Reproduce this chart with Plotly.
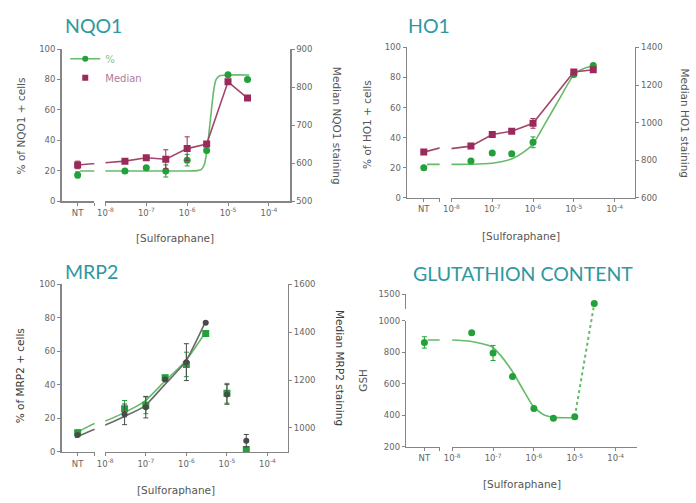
import plotly.graph_objects as go

W, H = 696, 503

# ---------------- data ----------------
CONC7 = [3e-8, 1e-7, 3e-7, 1e-6, 3e-6, 1e-5, 3e-5]
CONC6 = [3e-8, 1e-7, 3e-7, 1e-6, 1e-5, 3e-5]
NT_LOG = -8.68                      # where the untreated (NT) column sits on the log axis
X_TICKVALS = [1e-8, 1e-7, 1e-6, 1e-5, 1e-4]
X_TICKTEXT = ["10<sup>-8</sup>", "10<sup>-7</sup>", "10<sup>-6</sup>", "10<sup>-5</sup>", "10<sup>-4</sup>"]

# NQO1
nqo1_pct_nt, nqo1_pct_nt_err = 17.2, 2.0
nqo1_pct = [19.8, 21.9, 19.8, 26.9, 33.3, 83.2, 80.0]
nqo1_pct_err = [0.8, 0.8, 4.0, 3.8, 0.8, 0.8, 0.8]
nqo1_med_nt, nqo1_med_nt_err = 595, 10
nqo1_med = [605, 614, 610, 638, 650, 814, 771]
nqo1_med_err = [5, 4, 25, 31, 6, 4, 3]
nqo1_fit_log = [-8.62, -7.0, -6.0, -5.75, -5.65, -5.58, -5.51, -5.43, -5.35, -5.29, -5.2, -5.0, -4.48]
nqo1_fit_pct = [19.8, 19.8, 19.8, 20.0, 20.8, 24.0, 34.4, 53.8, 73.0, 80.0, 82.5, 83.0, 83.0]

# HO1
ho1_pct_nt, ho1_pct_nt_err = 20.0, 0.8
ho1_pct = [24.4, 29.8, 29.3, 36.9, 82.0, 88.0]
ho1_pct_err = [0.8, 0.8, 1.5, 3.6, 0.8, 0.8]
ho1_med_nt, ho1_med_nt_err = 843, 5
ho1_med = [875, 937, 954, 996, 1269, 1281]
ho1_med_err = [5, 6, 10, 26, 8, 8]
ho1_fit_log = [-8.6, -7.5, -7.0, -6.75, -6.5, -6.25, -6.0, -5.69, -5.37, -4.98, -4.72, -4.48]
ho1_fit_pct = [22.2, 22.3, 23.0, 24.2, 26.1, 30.0, 35.8, 50.0, 65.0, 82.5, 86.4, 88.0]

# MRP2
mrp2_pct_nt, mrp2_pct_nt_err = 11.5, 1.5
mrp2_pct = [25.8, 27.8, 44.3, 52.2, 70.7, 35.0, 1.4]
mrp2_pct_err = [4.9, 5.0, 1.5, 7.3, 1.0, 5.9, 0.8]
mrp2_med_nt, mrp2_med_nt_err = 971, 6
mrp2_med = [1057, 1087, 1203, 1275, 1440, 1140, 947]
mrp2_med_err = [43, 45, 6, 77, 4, 41, 26]
mrp2_fit_log = [-8.75, -8.26, -8.0, -7.57, -7.04, -6.54, -6.03, -5.54]
mrp2_fit_pct = [11.0, 17.0, 18.5, 23.0, 30.0, 42.0, 54.0, 71.0]
mrp2_fit_med = [960, 995, 1012, 1045, 1090, 1180, 1275, 1440]

# GSH
gsh_nt, gsh_nt_err = 863, 36
gsh = [925, 796, 647, 443, 381, 391, 1440]
gsh_err = [10, 48, 6, 6, 5, 6, 5]
gsh_fit_log = [-8.6, -8.24, -8.02, -7.52, -7.02, -6.8, -6.51, -6.23, -6.01, -5.75, -5.43, -4.99]
gsh_fit = [879, 879, 879, 869, 834, 776, 672, 547, 454, 402, 385, 385]

# ---------------- styling ----------------
GREEN = "#22a03a"
GREEN_LINE = "#66bb6a"
MAROON = "#9a2a5a"
MAROON_LINE = "#a3466f"
GRAY = "#4a4a4a"
GRAY_LINE = "#6a6a6a"
TEAL = "#2e98a0"
AXIS_COL = "#858585"
TICK_FONT = dict(family="DejaVu Sans", size=8.5, color="#666666")
TITLE_FONT = dict(family="DejaVu Sans", size=10.5, color="#555555")
TITLE_FONT_DARK = dict(family="DejaVu Sans", size=10.5, color="#3a3a3a")

# panel geometry in pixels
GEOM = {
    "nqo1": dict(left=54.3, brk=87.5, x8=98.7, dec=41.4, right=285.7, top=45.0, bot=200.0),
    "ho1": dict(left=404.3, brk=437.3, x8=449.3, dec=41.3, right=635.0, top=43.3, bot=196.7),
    "mrp2": dict(left=54.3, brk=87.8, x8=98.5, dec=41.1, right=283.3, top=285.0, bot=456.0),
    "gsh": dict(left=403.5, brk=437.3, x8=450.0, dec=41.4, right=637.0, top=322.3, bot=450.7,
                utop=295.0, ubot=310.0),
}


def fx(px):
    return px / W


def fy(py):
    return 1 - py / H


def logpos(g, px):
    return -8 + (px - g["x8"]) / g["dec"]


fig = go.Figure()
layout = {}

AX = dict(showline=True, linecolor=AXIS_COL, linewidth=1.5, ticks="outside", ticklen=3,
          tickcolor=AXIS_COL, tickwidth=1, tickfont=TICK_FONT, showgrid=False,
          zeroline=False, fixedrange=True)


def make_x(n, g, yname):
    nt = 10 ** NT_LOG
    layout["xaxis" + ("" if n == 1 else str(n))] = dict(
        AX, type="log", domain=[fx(g["left"]), fx(g["brk"])],
        range=[logpos(g, g["left"]), logpos(g, g["brk"])],
        tickmode="array", tickvals=[nt, 10 ** (logpos(g, g["brk"]) - 0.005)], ticktext=["NT", " "],
        anchor=yname)
    layout["xaxis" + str(n + 1)] = dict(
        AX, type="log", domain=[fx(g["x8"]), fx(g["right"])],
        range=[-8, logpos(g, g["right"])],
        tickmode="array", tickvals=X_TICKVALS, ticktext=X_TICKTEXT, anchor=yname)


def axname(prefix, n):
    return prefix + ("" if n == 1 else str(n))


def add_both(xn, yn, **kw):
    for xx in (axname("x", xn), axname("x", xn + 1)):
        fig.add_trace(go.Scatter(xaxis=xx, yaxis=yn, showlegend=False, hoverinfo="skip", **kw))


def eb(arr, col):
    return dict(type="data", array=arr, color=col, thickness=1, width=2.5)


def points(xn, yn, nt_val, nt_err, vals, errs, conc, col, symbol, size=7):
    xs = [10 ** NT_LOG] + list(conc)
    ys = [nt_val] + list(vals)
    es = [nt_err] + list(errs)
    add_both(xn, yn, x=xs, y=ys, mode="markers",
             marker=dict(color=col, symbol=symbol, size=size),
             error_y=eb(es, col))


# ---------- Panel 1: NQO1 ----------
g = GEOM["nqo1"]
make_x(1, g, "y")
layout["yaxis"] = dict(AX, domain=[fy(g["bot"]), fy(g["top"])], range=[0, 100],
                       tickvals=[0, 20, 40, 60, 80, 100], anchor="x")
layout["yaxis2"] = dict(AX, domain=[fy(g["bot"]), fy(g["top"])], range=[500, 900],
                        tickvals=[500, 600, 700, 800, 900], overlaying="y", side="right", anchor="x2")
add_both(1, "y", x=[10 ** v for v in nqo1_fit_log], y=nqo1_fit_pct, mode="lines",
         line=dict(color=GREEN_LINE, width=1.6, shape="spline", smoothing=0.5))
add_both(1, "y2", x=[10 ** NT_LOG] + CONC7, y=[nqo1_med_nt] + nqo1_med, mode="lines",
         line=dict(color=MAROON_LINE, width=1.6))
points(1, "y", nqo1_pct_nt, nqo1_pct_nt_err, nqo1_pct, nqo1_pct_err, CONC7, GREEN, "circle")
points(1, "y2", nqo1_med_nt, nqo1_med_nt_err, nqo1_med, nqo1_med_err, CONC7, MAROON, "square")

# legend entries
fig.add_trace(go.Scatter(x=[None], y=[None], xaxis="x2", yaxis="y", mode="lines+markers",
                         name='<span style="color:#86c28f">%</span>',
                         line=dict(color=GREEN_LINE, width=1.6),
                         marker=dict(color=GREEN, symbol="circle", size=6)))
fig.add_trace(go.Scatter(x=[None], y=[None], xaxis="x2", yaxis="y2", mode="markers",
                         name='<span style="color:#b07c96">Median</span>',
                         marker=dict(color=MAROON, symbol="square", size=6)))

# ---------- Panel 2: HO1 ----------
g = GEOM["ho1"]
make_x(3, g, "y3")
layout["yaxis3"] = dict(AX, domain=[fy(g["bot"]), fy(g["top"])], range=[0, 100],
                        tickvals=[0, 20, 40, 60, 80, 100], anchor="x3")
layout["yaxis4"] = dict(AX, domain=[fy(g["bot"]), fy(g["top"])], range=[600, 1400],
                        tickvals=[600, 800, 1000, 1200, 1400], overlaying="y3", side="right",
                        anchor="x4")
add_both(3, "y3", x=[10 ** v for v in ho1_fit_log], y=ho1_fit_pct, mode="lines",
         line=dict(color=GREEN_LINE, width=1.6, shape="spline", smoothing=0.6))
add_both(3, "y4", x=[10 ** NT_LOG] + CONC6, y=[ho1_med_nt] + ho1_med, mode="lines",
         line=dict(color=MAROON_LINE, width=1.6))
points(3, "y3", ho1_pct_nt, ho1_pct_nt_err, ho1_pct, ho1_pct_err, CONC6, GREEN, "circle")
points(3, "y4", ho1_med_nt, ho1_med_nt_err, ho1_med, ho1_med_err, CONC6, MAROON, "square")

# ---------- Panel 3: MRP2 ----------
g = GEOM["mrp2"]
make_x(5, g, "y5")
layout["yaxis5"] = dict(AX, domain=[fy(g["bot"]), fy(g["top"])], range=[0, 100],
                        tickvals=[0, 20, 40, 60, 80, 100], anchor="x5")
layout["yaxis6"] = dict(AX, domain=[fy(g["bot"]), fy(g["top"])], range=[900, 1600],
                        tickvals=[1000, 1200, 1400, 1600], overlaying="y5", side="right",
                        anchor="x6")
add_both(5, "y6", x=[10 ** v for v in mrp2_fit_log], y=mrp2_fit_med, mode="lines",
         line=dict(color=GRAY_LINE, width=1.6, shape="spline", smoothing=0.6))
add_both(5, "y5", x=[10 ** v for v in mrp2_fit_log], y=mrp2_fit_pct, mode="lines",
         line=dict(color=GREEN_LINE, width=1.6, shape="spline", smoothing=0.6))
points(5, "y6", mrp2_med_nt, mrp2_med_nt_err, mrp2_med, mrp2_med_err, CONC7, GRAY, "circle", 6)
points(5, "y5", mrp2_pct_nt, mrp2_pct_nt_err, mrp2_pct, mrp2_pct_err, CONC7, GREEN, "square", 7)

# ---------- Panel 4: GSH (broken y axis) ----------
g = GEOM["gsh"]
scale = (g["bot"] - g["top"]) / 800.0                 # px per GSH unit on the lower segment
c_top = 200 + (g["bot"] - g["utop"]) / scale          # hidden full-height axis top value
u_low = 1500 - (g["ubot"] - g["utop"]) / scale        # upper segment bottom value
offset = 1500 - c_top                                 # upper-segment value -> hidden-axis value
make_x(7, g, "y7")
layout["yaxis7"] = dict(AX, domain=[fy(g["bot"]), fy(g["top"])], range=[200, 1000],
                        tickvals=[200, 400, 600, 800, 1000], anchor="x7")
layout["yaxis8"] = dict(AX, domain=[fy(g["ubot"]), fy(g["utop"])], range=[u_low, 1500],
                        tickvals=[1500], anchor="x7")
layout["yaxis9"] = dict(visible=False, domain=[fy(g["bot"]), fy(g["utop"])], range=[200, c_top],
                        anchor="x7", fixedrange=True)
# dummy traces so that the visible axes get their subplots
for yy in ("y7", "y8"):
    for xx in ("x7", "x8"):
        fig.add_trace(go.Scatter(x=[None], y=[None], xaxis=xx, yaxis=yy, showlegend=False,
                                 hoverinfo="skip"))


def gsh_plot(v):
    return v - offset if v > 1000 else v


add_both(7, "y9", x=[10 ** v for v in gsh_fit_log], y=gsh_fit, mode="lines",
         line=dict(color=GREEN_LINE, width=1.6, shape="spline", smoothing=0.6))
add_both(7, "y9", x=CONC7[-2:], y=[gsh_plot(v) for v in gsh[-2:]], mode="lines",
         line=dict(color=GREEN_LINE, width=2, dash="dot"))
points(7, "y9", gsh_nt, gsh_nt_err, [gsh_plot(v) for v in gsh], gsh_err, CONC7, GREEN, "circle")

# ---------------- annotations ----------------
ann = []


def text(x, y, s, font, angle=0, xanchor="center"):
    ann.append(dict(x=fx(x), y=fy(y), xref="paper", yref="paper", text=s, showarrow=False,
                    font=font, textangle=angle, xanchor=xanchor, yanchor="middle"))


HEAD = dict(family="Lato", size=19.5, color=TEAL)
text(56, 21, "NQO1", HEAD, xanchor="left")
text(403, 21, "HO1", HEAD, xanchor="left")
text(56, 272, "MRP2", HEAD, xanchor="left")
text(408, 274, "GLUTATHION CONTENT", HEAD, xanchor="left")

text(13, 123, "% of NQO1 + cells", TITLE_FONT, -90)
text(334, 123, "Median NQO1 staining", TITLE_FONT, 90)
text(169, 238, "[Sulforaphane]", TITLE_FONT)

text(363, 122, "% of HO1 + cells", TITLE_FONT, -90)
text(686, 121, "Median HO1 staining", TITLE_FONT, 90)
text(520, 236, "[Sulforaphane]", TITLE_FONT)

text(13, 378, "% of MRP2 + cells", TITLE_FONT_DARK, -90)
text(337, 370, "Median MRP2 staining", TITLE_FONT_DARK, 90)
text(170, 495, "[Sulforaphane]", TITLE_FONT)

text(360, 383, "GSH", TITLE_FONT, -90)
text(521, 489, "[Sulforaphane]", TITLE_FONT)

layout.update(
    width=W, height=H, margin=dict(l=0, r=0, t=0, b=0, pad=0),
    paper_bgcolor="white", plot_bgcolor="white",
    showlegend=True,
    legend=dict(x=fx(58), y=fy(40), xanchor="left", yanchor="top", bgcolor="rgba(0,0,0,0)",
                font=dict(family="DejaVu Sans", size=10), tracegroupgap=0, itemwidth=30),
    annotations=ann,
)
fig.update_layout(layout)
fig.write_html("out.html", config={"displayModeBar": False, "staticPlot": True},
               post_script="document.body.style.margin='0px';")
